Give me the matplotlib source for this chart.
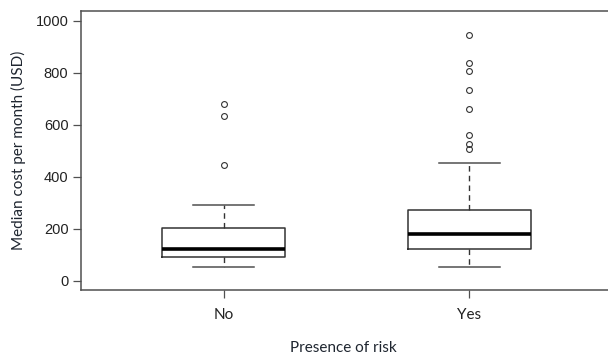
import numpy as np
import matplotlib.pyplot as plt

# Boxplot: costo mediano mensual segun presencia de riesgo
grupos = ['No', 'Yes']
q1 = [92, 124]
medianas = [123, 181]
q3 = [205, 272]
bigote_inf = [55, 53]
bigote_sup = [290, 455]
atipicos = [
    [682, 636, 445],
    [947, 837, 807, 735, 663, 560, 527, 509],
]
yticks = [0, 200, 400, 600, 800, 1000]

stats = []
for i in range(len(grupos)):
    stats.append({'label': grupos[i], 'q1': q1[i], 'med': medianas[i], 'q3': q3[i],
                  'whislo': bigote_inf[i], 'whishi': bigote_sup[i],
                  'fliers': atipicos[i]})

fig = plt.figure(figsize=(6.08, 3.55), dpi=100)
# el marco sigue fuera de la imagen por la derecha (recorte original)
ax = fig.add_axes([81/608, 1 - 290/355, (625 - 81)/608, (290 - 11)/355])

gris = '#505050'
ax.bxp(stats, positions=[1, 2], widths=0.5, capwidths=0.25, patch_artist=False,
       boxprops=dict(color='#333333', linewidth=1.1),
       medianprops=dict(color='black', linewidth=2.6, solid_capstyle='butt'),
       whiskerprops=dict(color='#333333', linewidth=1.0, linestyle=(0, (4, 3))),
       capprops=dict(color=gris, linewidth=1.1),
       flierprops=dict(marker='o', markerfacecolor='none', markeredgecolor='#333333',
                       markersize=4.2, markeredgewidth=0.8))

ax.set_xlim(0.42, 2 + (625 - 469.3)/245.6)
ax.set_ylim(-35, 1038)
ax.set_yticks(yticks)
ax.set_yticklabels([str(v) for v in yticks], fontfamily='Liberation Sans', fontsize=10.5,
                   color='#222222')
ax.set_xticks([1, 2])
ax.set_xticklabels(grupos, fontfamily='Lato', fontsize=11, color='#222222')
ax.tick_params(axis='both', direction='out', length=6, width=0.9, color=gris)
ax.tick_params(axis='x', pad=7)
ax.tick_params(axis='y', pad=3)

for lado in ax.spines.values():
    lado.set_color(gris)
    lado.set_linewidth(1.1)

ax.set_ylabel('Median cost per month (USD)', fontfamily='Lato', fontsize=11,
              color='#1f2630', labelpad=7)
ax.set_xlabel('Presence of risk', fontfamily='Lato', fontsize=11, color='#1f2630')
ax.xaxis.set_label_coords((343.5 - 81)/(625 - 81), -(348 - 290)/(290 - 11))
ax.xaxis.label.set_va('center')

fig.savefig('out.png', dpi=100)
